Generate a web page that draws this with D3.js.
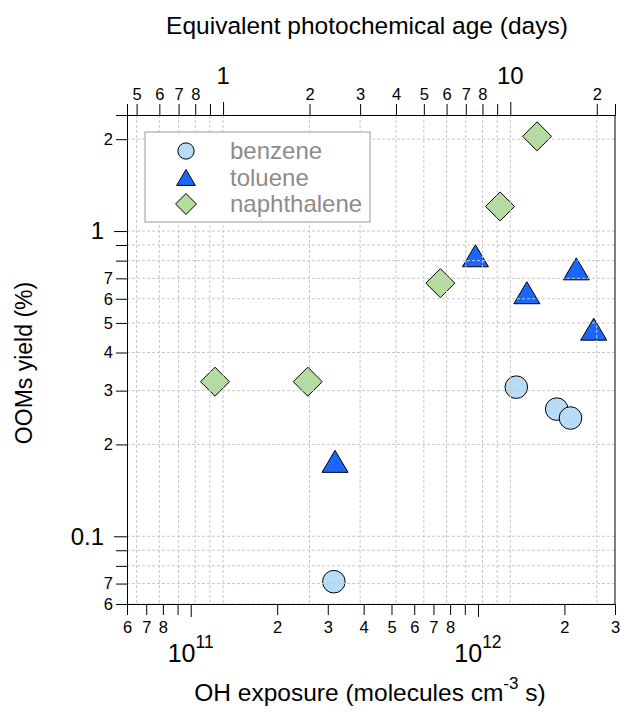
<!DOCTYPE html>
<html>
<head>
<meta charset="utf-8">
<script src="https://cdn.jsdelivr.net/npm/d3@7"></script>
<style>
  body { margin: 0; background: #fff; }
  text { font-family: Arial, "Liberation Sans", sans-serif; }
</style>
</head>
<body>
<div id="chart"></div>
<script>
// data (OH exposure in molecules cm-3 s, yield in %)
const benzeneOH = [3.15e11, 1.36e12, 1.88e12, 2.10e12];
const benzeneYield = [0.071, 0.308, 0.261, 0.244];
const tolueneOH = [3.18e11, 9.8e11, 1.48e12, 2.20e12, 2.53e12];
const tolueneYield = [0.176, 0.83, 0.628, 0.752, 0.477];
const naphOH = [1.215e11, 2.555e11, 7.40e11, 1.194e12, 1.606e12];
const naphYield = [0.321, 0.321, 0.675, 1.204, 2.043];

const seriesNames = ["benzene", "toluene", "naphthalene"];

const ohTicks = [6e10, 7e10, 8e10, 9e10, 1e11, 2e11, 3e11, 4e11, 5e11, 6e11, 7e11, 8e11, 9e11, 1e12, 2e12, 3e12];
const ohMajors = [1e11, 1e12];
const ageTicks = [0.5, 0.6, 0.7, 0.8, 0.9, 1, 2, 3, 4, 5, 6, 7, 8, 9, 10, 20];
const ageMajors = [1, 10];
const yieldTicks = [0.06, 0.07, 0.08, 0.09, 0.1, 0.2, 0.3, 0.4, 0.5, 0.6, 0.7, 0.8, 0.9, 1, 2];
const yieldMajors = [0.1, 1];

const OH_CONC = 1.5e6;            // molecules cm-3 used for the day axis
const SEC_PER_DAY = 86400;

const W = 621, H = 712;
const pLeft = 127, pRight = 615, pTop = 115, pBottom = 604;

const svg = d3.select("#chart").append("svg")
    .attr("width", W)
    .attr("height", H);

const x = d3.scaleLog().domain([6e10, 3e12]).range([pLeft, pRight]);
const xAge = d3.scaleLog()
    .domain(x.domain().map(v => v / (OH_CONC * SEC_PER_DAY)))
    .range([pLeft, pRight]);
const y = d3.scaleLog().domain([0.06, 2.4]).range([pBottom, pTop]);

// mantissa labels: skip the ones that Igor leaves blank
function mantissa(v, skip) {
    const m = Math.round(v / Math.pow(10, Math.floor(Math.log10(v) + 1e-9)));
    return skip.includes(m) ? "" : String(m);
}
const isMajor = (list, v) => list.some(m => Math.abs(m - v) / m < 1e-6);

const minorLen = 11, majorLen = 13;

// markers
const shapes = {
    benzene: (g, s) => g.append("circle").attr("r", 11.3 * s),
    toluene: (g, s) => g.append("path")
        .attr("d", `M0,${-11 * s}L${13 * s},${11 * s}L${-13 * s},${11 * s}Z`),
    naphthalene: (g, s) => g.append("path")
        .attr("d", `M0,${-14.5 * s}L${14.5 * s},0L0,${14.5 * s}L${-14.5 * s},0Z`)
};
const fills = { benzene: "#b7dcf8", toluene: "#1a66ff", naphthalene: "#b4dc9f" };

const series = [
    { name: "benzene", xs: benzeneOH, ys: benzeneYield },
    { name: "toluene", xs: tolueneOH, ys: tolueneYield },
    { name: "naphthalene", xs: naphOH, ys: naphYield }
];

// markers first, grid goes over them like in the original
series.forEach(s => {
    s.xs.forEach((v, i) => {
        const g = svg.append("g")
            .attr("transform", `translate(${x(v)},${y(s.ys[i])})`);
        shapes[s.name](g, 1)
            .attr("fill", fills[s.name])
            .attr("stroke", "#000")
            .attr("stroke-width", 1);
    });
});

// grid: vertical lines follow the day axis, horizontal the yield axis
const grid = svg.append("g")
    .attr("stroke", "#c8c8c8")
    .attr("stroke-width", 1)
    .attr("stroke-dasharray", "3,2");
grid.selectAll("line.v").data(ageTicks).enter().append("line")
    .attr("class", "v")
    .attr("x1", d => xAge(d)).attr("x2", d => xAge(d))
    .attr("y1", pTop).attr("y2", pBottom);
grid.selectAll("line.h").data(yieldTicks).enter().append("line")
    .attr("class", "h")
    .attr("x1", pLeft).attr("x2", pRight)
    .attr("y1", d => y(d)).attr("y2", d => y(d));

// axes
const xAxis = d3.axisBottom(x).tickValues(ohTicks).tickSizeOuter(0)
    .tickSize(minorLen).tickFormat(d => isMajor(ohMajors, d) ? "" : mantissa(d, [1, 9]));
const gx = svg.append("g").attr("transform", `translate(0,${pBottom})`).call(xAxis);
gx.selectAll(".tick text").attr("font-size", 16.5).attr("dy", 0).attr("y", 29);
gx.selectAll(".tick line").filter(d => isMajor(ohMajors, d)).attr("y2", majorLen);

const topAxis = d3.axisTop(xAge).tickValues(ageTicks).tickSizeOuter(0)
    .tickSize(minorLen).tickFormat(d => isMajor(ageMajors, d) ? "" : mantissa(d, [1, 9]));
const gt = svg.append("g").attr("transform", `translate(0,${pTop})`).call(topAxis);
gt.selectAll(".tick text").attr("font-size", 16.5).attr("y", -15);
gt.selectAll(".tick line").filter(d => isMajor(ageMajors, d)).attr("y2", -majorLen);

const yAxis = d3.axisLeft(y).tickValues(yieldTicks).tickSizeOuter(0)
    .tickSize(minorLen).tickFormat(d => isMajor(yieldMajors, d) ? "" : mantissa(d, [1, 8, 9]));
const gy = svg.append("g").attr("transform", `translate(${pLeft},0)`).call(yAxis);
gy.selectAll(".tick text").attr("font-size", 16.5).attr("x", -14);
gy.selectAll(".tick line").filter(d => isMajor(yieldMajors, d)).attr("x2", -majorLen);

[gx, gt, gy].forEach(g => {
    g.select(".domain").attr("stroke", "#000");
    g.selectAll(".tick line").attr("stroke", "#000");
    g.selectAll(".tick text").attr("fill", "#000").attr("font-family", "Arial, 'Liberation Sans', sans-serif");
});

// right frame line
svg.append("line")
    .attr("x1", pRight).attr("x2", pRight).attr("y1", pTop).attr("y2", pBottom)
    .attr("stroke", "#000");

// major labels
ohMajors.forEach(v => {
    const t = svg.append("text")
        .attr("x", x(v)).attr("y", 662)
        .attr("text-anchor", "middle")
        .attr("font-size", 25);
    t.append("tspan").text("10");
    t.append("tspan").attr("dy", -14).attr("font-size", 17.5).text(Math.round(Math.log10(v)));
});
ageMajors.forEach(v => {
    svg.append("text")
        .attr("x", xAge(v)).attr("y", 84)
        .attr("text-anchor", "middle")
        .attr("font-size", 24)
        .text(v);
});
yieldMajors.forEach(v => {
    svg.append("text")
        .attr("x", 104).attr("y", y(v))
        .attr("dy", "0.35em")
        .attr("text-anchor", "end")
        .attr("font-size", 24)
        .text(v);
});

// axis titles
svg.append("text")
    .attr("x", 367).attr("y", 34)
    .attr("text-anchor", "middle")
    .attr("font-size", 24.5)
    .text("Equivalent photochemical age (days)");

const xt = svg.append("text")
    .attr("x", 370).attr("y", 701)
    .attr("text-anchor", "middle")
    .attr("font-size", 24.5);
xt.append("tspan").text("OH exposure (molecules cm");
xt.append("tspan").attr("dy", -12).attr("font-size", 17).text("-3");
xt.append("tspan").attr("dy", 12).text(" s)");

svg.append("text")
    .attr("transform", `translate(32,363) rotate(-90)`)
    .attr("text-anchor", "middle")
    .attr("font-size", 23)
    .text("OOMs yield (%)");

// legend
const legend = svg.append("g");
legend.append("rect")
    .attr("x", 145).attr("y", 132)
    .attr("width", 225).attr("height", 90)
    .attr("fill", "#fff")
    .attr("stroke", "#999");
seriesNames.forEach((name, i) => {
    const yy = 151 + i * 26.5;
    const g = legend.append("g").attr("transform", `translate(186,${yy})`);
    shapes[name](g, 0.72)
        .attr("fill", fills[name])
        .attr("stroke", "#000");
    legend.append("text")
        .attr("x", 230).attr("y", yy)
        .attr("dy", "0.35em")
        .attr("font-size", 24)
        .attr("fill", "#8c8c8c")
        .text(name);
});
</script>
</body>
</html>
